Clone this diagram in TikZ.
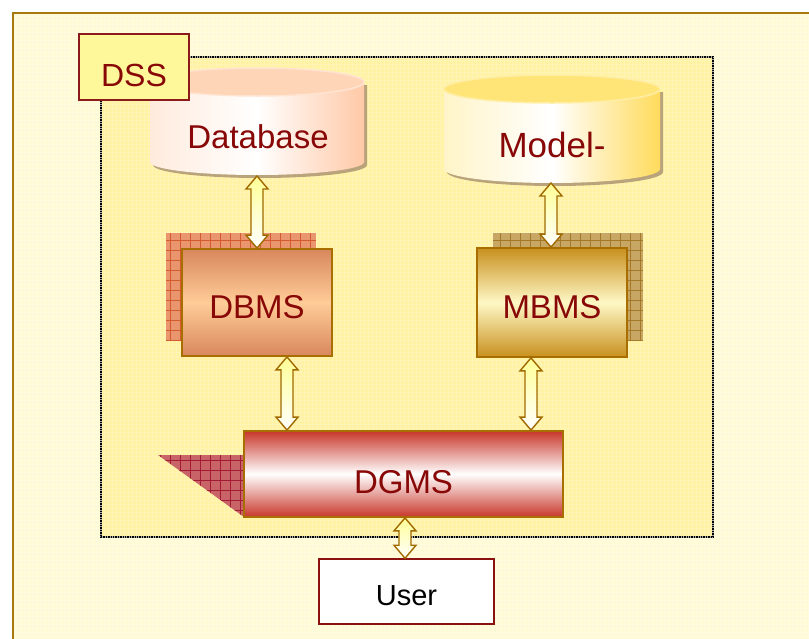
\documentclass[tikz,border=0pt]{standalone}
\usepackage{fontspec}
\setmainfont{Liberation Sans}
\usetikzlibrary{calc}

\definecolor{outerbg}{HTML}{FFFAD6}
\definecolor{innerbg}{HTML}{FFF2A2}
\definecolor{framecol}{HTML}{A87810}
\definecolor{dssfill}{HTML}{FFF89A}
\definecolor{dssedge}{HTML}{8B1A1A}
\definecolor{txtred}{HTML}{880808}
\definecolor{boxedge}{HTML}{A86E00}
\definecolor{dbdark}{HTML}{D8875C}
\definecolor{dblight}{HTML}{FFCC98}
\definecolor{mbdark}{HTML}{C8901E}
\definecolor{mblight}{HTML}{FFF8C6}
\definecolor{dgdark}{HTML}{C8362A}
\definecolor{dbhatch}{HTML}{E9966E}
\definecolor{dbhatchline}{HTML}{D45A30}
\definecolor{mbhatch}{HTML}{C8A664}
\definecolor{mbhatchline}{HTML}{A47A2A}
\definecolor{dghatch}{HTML}{C86468}
\definecolor{dghatchline}{HTML}{A41C34}
\definecolor{arrowedge}{HTML}{A06A00}
\definecolor{arrowtop}{HTML}{FFFF96}
\definecolor{dbtop}{HTML}{FFD5B8}
\definecolor{dbrim}{HTML}{FFE4D2}
\definecolor{dbleft}{HTML}{FFEBDD}
\definecolor{dbright}{HTML}{FFC9A7}
\definecolor{mdtop}{HTML}{FFE578}
\definecolor{mdrim}{HTML}{FFEFA6}
\definecolor{mdleft}{HTML}{FFF4C8}
\definecolor{mdright}{HTML}{FFDB5C}
\definecolor{cylshadow}{HTML}{A89070}
\definecolor{useredge}{HTML}{8B1010}

\newcommand\labelfont{\fontsize{33}{36}\selectfont}

\tikzset{
  lbl/.style={text=txtred, font=\labelfont, inner sep=0pt},
  block/.style={draw=boxedge, line width=1.8pt, lbl, text depth=0pt},
  dblarrow/.style={draw=arrowedge, line width=1.4pt, top color=arrowtop,
    bottom color=white, line join=miter},
  hatchgrid/.style={line width=.8pt, step=10pt},
}

% vertical two-headed block arrow from #1 down to #2, shifted sideways by #3
\newcommand\linkarrow[3]{%
  \path[dblarrow] let \p1=($(#1)+(#3,0)$), \p2=(#2) in
    (\x1,\y1) -- (\x1+11pt,\y1-13pt) -- (\x1+6pt,\y1-13pt) --
    (\x1+6pt,\y2+13pt) -- (\x1+11pt,\y2+13pt) -- (\x1,\y2) --
    (\x1-11pt,\y2+13pt) -- (\x1-6pt,\y2+13pt) --
    (\x1-6pt,\y1-13pt) -- (\x1-11pt,\y1-13pt) -- cycle;}

\begin{document}
\begin{tikzpicture}[x=1pt,y=-1pt]
\clip (0,0) rectangle (809,638);
\fill[white] (0,0) rectangle (809,638);

% outer panel and the DSS area
\fill[outerbg] (13,13) rectangle (820,650);
\fill[innerbg] (101,57) rectangle (713,537);
\draw[white, opacity=.22, line width=.6pt, step=4pt] (13,13) grid (809,638);
\draw[framecol, line width=1.6pt] (13,13) rectangle (820,650);
\draw[gray!70, line width=1.4pt] (101,57) rectangle (713,537);
\draw[black, densely dotted, line width=1.4pt] (101,57) rectangle (713,537);

% Database cylinder
\fill[cylshadow, opacity=.8, shift={(3,3)}] (150,82) -- (150,162)
  arc[start angle=180, end angle=360, x radius=107pt, y radius=13pt] -- (364,82) -- cycle;
\shade[left color=dbleft, right color=dbright, middle color=white] (150,82) -- (150,162)
  arc[start angle=180, end angle=360, x radius=107pt, y radius=13pt] -- (364,82) -- cycle;
\fill[dbtop] (257,82) ellipse[x radius=107pt, y radius=14pt];
\draw[dbrim, line width=1.5pt] (257,82) ellipse[x radius=107pt, y radius=14pt];
\node[lbl] (db) at (258,136.5) {Database};
\coordinate (dbbase) at (257,176);

% Model base cylinder
\fill[cylshadow, opacity=.8, shift={(3,3)}] (444,89) -- (444,169)
  arc[start angle=180, end angle=360, x radius=108pt, y radius=14pt] -- (660,89) -- cycle;
\shade[left color=mdleft, right color=mdright, middle color=white] (444,89) -- (444,169)
  arc[start angle=180, end angle=360, x radius=108pt, y radius=14pt] -- (660,89) -- cycle;
\fill[mdtop] (552,89) ellipse[x radius=108pt, y radius=14pt];
\draw[mdrim, line width=1.5pt] (552,89) ellipse[x radius=108pt, y radius=14pt];
\node[lbl, font=\fontsize{35}{38}\selectfont] (model) at (552,145) {Model-};
\coordinate (modelbase) at (551,183);

% DSS tab, in front of the database
\node[draw=dssedge, fill=dssfill, line width=1.5pt, minimum width=110pt,
  minimum height=66pt, lbl, font=\fontsize{32}{36}\selectfont,
  text height=39pt, text depth=0pt] (dss) at (134,67) {DSS};

% hatched shadows behind the management blocks
\fill[dbhatch] (166,233) rectangle (316,340);
\draw[dbhatchline, hatchgrid] (166,233) grid (316,340);
\fill[mbhatch] (493,233) rectangle (643,340);
\draw[mbhatchline, hatchgrid] (493,233) grid (643,340);
\begin{scope}
  \clip (158,455) -- (244,455) -- (244,517) -- cycle;
  \fill[dghatch] (150,450) rectangle (250,520);
  \draw[dghatchline, hatchgrid] (150,450) grid (250,520);
\end{scope}

% management blocks
\node[block, top color=dbdark, bottom color=dbdark, middle color=dblight,
  minimum width=150pt, minimum height=107pt, text height=31.6pt] (dbms) at (257,302.5) {DBMS};
\node[block, top color=mbdark, bottom color=mbdark, middle color=mblight,
  minimum width=150pt, minimum height=109pt, text height=31.6pt] (mbms) at (552,302.5) {MBMS};
\node[block, top color=dgdark, bottom color=dgdark, middle color=white,
  minimum width=319pt, minimum height=86pt, text height=38.6pt] (dgms) at (403.5,474) {DGMS};

% user
\node[draw=useredge, fill=white, line width=1.5pt, minimum width=175pt,
  minimum height=65pt, font=\fontsize{29}{32}\selectfont, inner sep=0pt,
  text height=27.8pt, text depth=0pt] (user) at (406.5,591.5) {User};

% connectors
\linkarrow{dbbase}{dbms.north}{0}
\linkarrow{modelbase}{mbms.north}{0}
\linkarrow{dbms.south}{dgms.north}{30}
\linkarrow{mbms.south}{dgms.north}{-21}
\linkarrow{dgms.south}{user.north}{1.5}
\end{tikzpicture}
\end{document}
